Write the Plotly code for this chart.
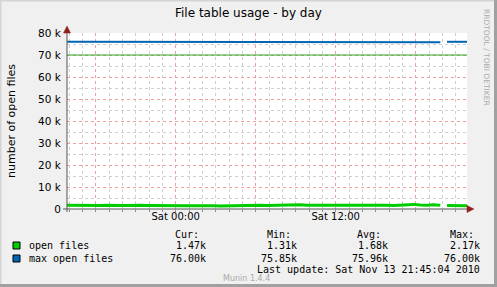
import plotly.graph_objects as go
import pandas as pd

# ---- data ----
base_times = list(pd.date_range("2010-11-12 15:51", periods=61, freq="30min"))
open_files_base = [1720, 1650, 1780, 1600, 1690, 1550, 1700, 1820, 1640, 1580, 1750, 1690,
                   1620, 1540, 1600, 1680, 1580, 1500, 1450, 1520, 1600, 1540, 1480, 1420,
                   1500, 1580, 1650, 1540, 1600, 1700, 1640, 1720, 1800, 1690, 1620, 1900,
                   1750, 1680, 1600, 1720, 1780, 1650, 1700, 1620, 1760, 1690, 1720, 1850,
                   1700, 1640, 1760, 1950, 2100, 1800, 1700, 1950, 1750, 1620, 1600, 1720, 1470]
max_open_files_base = [76000] * 20 + [75950] + [76000] * 35 + [75850] + [76000] * 4
gap_index = 57                      # data missing just before this sample
gap_time = pd.Timestamp("2010-11-13 20:14")
warning_level = 70000
x_range = ["2010-11-12 15:51", "2010-11-13 21:51"]
y_ticks = [0, 10000, 20000, 30000, 40000, 50000, 60000, 70000, 80000]
y_labels = ["0", "10 k", "20 k", "30 k", "40 k", "50 k", "60 k", "70 k", "80 k"]
x_ticks = ["2010-11-12 18:00", "2010-11-13 00:00", "2010-11-13 06:00",
           "2010-11-13 12:00", "2010-11-13 18:00"]
x_labels = ["", "Sat 00:00", "", "Sat 12:00", ""]
series_names = ["open files", "max open files"]
series_colors = ["#00cc00", "#0066b3"]
stats_header = ["Cur:", "Min:", "Avg:", "Max:"]
stats = [["1.47k", "1.31k", "1.68k", "2.17k"],
         ["76.00k", "75.85k", "75.96k", "76.00k"]]

# insert the data gap (a None sample) so the line breaks there
times = base_times[:gap_index] + [gap_time] + base_times[gap_index:]
open_files = open_files_base[:gap_index] + [None] + open_files_base[gap_index:]
max_open_files = max_open_files_base[:gap_index] + [None] + max_open_files_base[gap_index:]

W, H = 497, 287
L, R, T, B = 67, 467, 33, 209

def px(x):
    return (x - L) / (R - L)

def py(y):
    return (B - y) / (B - T)

fig = go.Figure()
fig.add_trace(go.Scatter(x=[times[0], times[-1]], y=[warning_level, warning_level],
                         mode="lines", line=dict(color="#22aa22", width=1),
                         hoverinfo="skip"))
fig.add_trace(go.Scatter(x=times, y=max_open_files, mode="lines",
                         line=dict(color=series_colors[1], width=2), connectgaps=False))
fig.add_trace(go.Scatter(x=times, y=open_files, mode="lines",
                         line=dict(color=series_colors[0], width=3), connectgaps=False))

mono = "DejaVu Sans Mono"
sans = "DejaVu Sans"

fig.update_layout(
    width=W, height=H,
    margin=dict(l=L, r=W - R, t=T, b=H - B, autoexpand=False),
    paper_bgcolor="#f0f0f0", plot_bgcolor="#ffffff",
    showlegend=False,
    font=dict(family=sans, size=10, color="#000000"),
    xaxis=dict(type="date", range=x_range, tickmode="array", tickvals=x_ticks,
               ticktext=x_labels, showgrid=True, gridcolor="#f0a0a0", griddash="dot",
               gridwidth=1, zeroline=False, showline=False, ticks="", automargin=False,
               tickfont=dict(family=sans, size=10),
               minor=dict(dtick=3600000, tick0="2010-11-12 16:00", showgrid=True,
                          gridcolor="#d0d0d0", griddash="dot", gridwidth=1,
                          ticks="outside", ticklen=2, tickcolor="#888888")),
    yaxis=dict(range=[0, 80000], tickmode="array", tickvals=y_ticks, ticktext=y_labels,
               showgrid=True, gridcolor="#f0a0a0", griddash="dot", gridwidth=1,
               zeroline=False, showline=False, ticks="outside", ticklen=3, automargin=False,
               tickcolor="rgba(0,0,0,0)", tickfont=dict(family=sans, size=10.5),
               title=dict(text="number of open files", font=dict(family=sans, size=11),
                          standoff=20),
               minor=dict(dtick=5000, showgrid=True, gridcolor="#d0d0d0",
                          griddash="dot", gridwidth=1)),
)

shapes = []
# axes lines
shapes.append(dict(type="line", xref="paper", yref="paper", x0=px(L), x1=px(L),
                   y0=py(212), y1=py(30), line=dict(color="#555555", width=1)))
shapes.append(dict(type="line", xref="paper", yref="paper", x0=px(63), x1=px(470),
                   y0=py(B), y1=py(B), line=dict(color="#555555", width=1)))
# arrowheads
shapes.append(dict(type="path", xref="paper", yref="paper",
                   path=f"M {px(63.5)} {py(33)} L {px(67)} {py(26)} L {px(70.5)} {py(33)} Z",
                   fillcolor="#902020", line=dict(color="#902020", width=0.5)))
shapes.append(dict(type="path", xref="paper", yref="paper",
                   path=f"M {px(467)} {py(205.5)} L {px(474)} {py(209)} L {px(467)} {py(212.5)} Z",
                   fillcolor="#902020", line=dict(color="#902020", width=0.5)))
# legend squares
for c, yy in zip(series_colors, [242, 255]):
    shapes.append(dict(type="rect", xref="paper", yref="paper",
                       x0=px(13), x1=px(20), y0=py(yy), y1=py(yy + 7),
                       fillcolor=c, line=dict(color="#000000", width=1)))
# frame
shapes.append(dict(type="line", xref="paper", yref="paper", x0=px(0), x1=px(0),
                   y0=py(0), y1=py(H), line=dict(color="#d4d4d4", width=3)))
shapes.append(dict(type="line", xref="paper", yref="paper", x0=px(0), x1=px(W),
                   y0=py(0), y1=py(0), line=dict(color="#d4d4d4", width=3)))
shapes.append(dict(type="line", xref="paper", yref="paper", x0=px(W - 1.5), x1=px(W - 1.5),
                   y0=py(0), y1=py(H), line=dict(color="#a0a0a0", width=3)))
shapes.append(dict(type="line", xref="paper", yref="paper", x0=px(0), x1=px(W),
                   y0=py(H - 1.5), y1=py(H - 1.5), line=dict(color="#a0a0a0", width=3)))
fig.update_layout(shapes=shapes)

ann = []
def text(x, y, s, anchor="left", family=mono, size=10, color="#000000", angle=0):
    ann.append(dict(x=px(x), y=py(y), xref="paper", yref="paper", text=s,
                    showarrow=False, xanchor=anchor, yanchor="middle",
                    font=dict(family=family, size=size, color=color), textangle=angle))

text(248, 13, "File table usage - by day", anchor="center", family=sans, size=12)
text(487, 57, "RRDTOOL / TOBI OETIKER", anchor="center", family=sans, size=7.5,
     color="#aaaaaa", angle=90)
col_right = [208, 299, 390, 482]
header_left = [173, 265, 355, 448]
for h, xl in zip(stats_header, header_left):
    text(xl, 234, h, anchor="left")
for i, (name, yy) in enumerate(zip(series_names, [245, 258])):
    text(27, yy, name, anchor="left")
    for v, xr in zip(stats[i], col_right):
        text(xr, yy, v, anchor="right")
text(482, 269, "Last update: Sat Nov 13 21:45:04 2010", anchor="right")
text(246, 278, "Munin 1.4.4", anchor="center", family=sans, size=8, color="#aaaaaa")
fig.update_layout(annotations=ann)

fig.write_html("out.html")
